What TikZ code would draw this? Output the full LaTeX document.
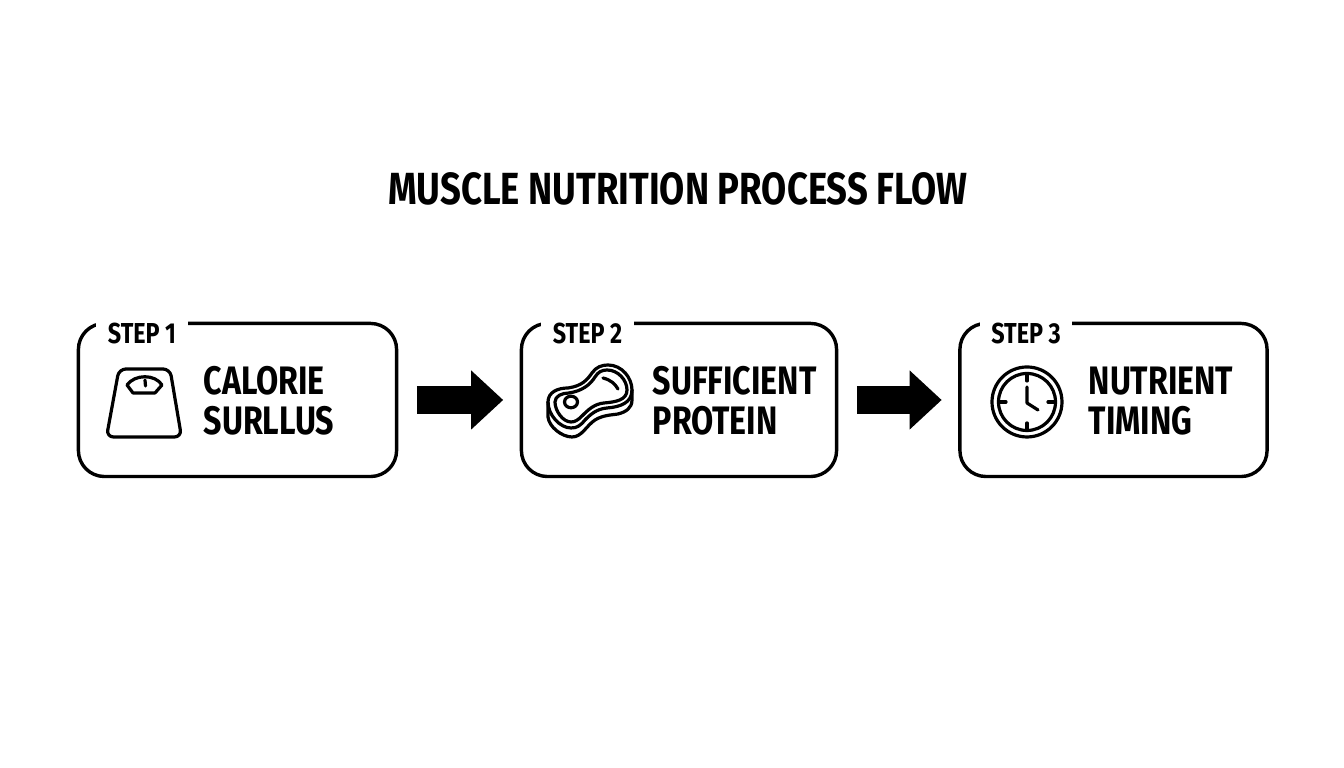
\documentclass[tikz,border=0pt]{standalone}
\usepackage{fontspec}
\setmainfont{Fira Sans}
\newfontfamily\stepfont[FakeStretch=0.81]{Fira Sans}
\usetikzlibrary{arrows.meta}
\tikzset{
  stepbox/.style={draw,line width=0.034cm,rounded corners=0.26cm,minimum height=1.53cm},
  steptag/.style={fill=white,inner xsep=0.115cm,inner ysep=0.03cm,font=\stepfont\bfseries\fontsize{8.2}{9}\selectfont},
  stepname/.style={anchor=west,align=left,inner sep=0pt,font=\stepfont\bfseries\fontsize{11.3}{11.38}\selectfont},
  flowarrow/.style={line width=0.28cm,-{Triangle[length=0.32cm,width=0.57cm]},shorten <=0.185cm,shorten >=0.165cm},
  icon/.style={line width=0.032cm,line join=round,line cap=round}
}
\begin{document}
\begin{tikzpicture}[x=0.01cm,y=-0.01cm]
  \useasboundingbox (0,0) rectangle (1344,768);

  \node[font=\stepfont\bfseries\fontsize{12.8}{14}\selectfont] (title) at (678,188.5) {MUSCLE NUTRITION PROCESS FLOW};

  \node[stepbox,minimum width=3.18cm] (box1) at (237.5,400) {};
  \node[stepbox,minimum width=3.15cm] (box2) at (679,400) {};
  \node[stepbox,minimum width=3.07cm] (box3) at (1113.5,400) {};

  \node[steptag] (tag1) at (142,333.5) {STEP 1};
  \node[steptag] (tag2) at (587.5,333.5) {STEP 2};
  \node[steptag] (tag3) at (1026,333.5) {STEP 3};

  \node[stepname] (name1) at (203,401) {CALORIE\\SURLLUS};
  \node[stepname] (name2) at (652,401) {SUFFICIENT\\PROTEIN};
  \node[stepname] (name3) at (1088,401) {NUTRIENT\\TIMING};

  \draw[flowarrow] (box1) -- (box2);
  \draw[flowarrow] (box2) -- (box3);

  % scale
  \draw[icon,rounded corners=0.07cm] (119,369) -- (170,369) -- (181.5,437) -- (106.5,437) -- cycle;
  \draw[icon] (127,385) .. controls (135,374) and (155,374) .. (162,385) -- (155,393) -- (133,393) -- cycle;
  \draw[icon] (145,380) -- (145.5,386);

  % steak
  \draw[icon] (548,402) .. controls (548,392) and (558,388) .. (568,388)
    .. controls (582,386) and (587,380) .. (592,373)
    .. controls (596,367) and (602,365) .. (608,365)
    .. controls (622,365) and (632,378) .. (632,390)
    .. controls (632,403) and (620,407) .. (607,408)
    .. controls (596,409) and (590,415) .. (585,420)
    .. controls (580,426) and (577,428) .. (571,428)
    .. controls (560,428) and (548,415) .. (548,402) -- cycle;
  \draw[icon] (555,402) .. controls (555,396) and (562,393) .. (569,393)
    .. controls (582,391) and (590,385) .. (595,377)
    .. controls (598,372) and (602,370) .. (607,370)
    .. controls (618,370) and (627,380) .. (627,390)
    .. controls (627,400) and (616,402) .. (604,403)
    .. controls (594,404) and (588,410) .. (582,416)
    .. controls (578,420) and (575,422) .. (571,422)
    .. controls (563,422) and (555,411) .. (555,402) -- cycle;
  \draw[icon] (548,402) -- (548,417) .. controls (549,427) and (562,437) .. (572,437)
    .. controls (582,437) and (586,426) .. (595,420)
    .. controls (603,415) and (612,415) .. (618,414)
    .. controls (626,412) and (632,408) .. (632,400) -- (632,390);
  \draw[icon] (571,402) ellipse (6.5 and 5.8);
  \draw[icon] (603,378) .. controls (611,380) and (615,384) .. (618,389);

  % clock
  \draw[icon] (1027,402) circle (35);
  \draw[icon] (1027,402) circle (28.5);
  \draw[icon] (1027,375) -- (1027,381);
  \draw[icon] (1027,423) -- (1027,429);
  \draw[icon] (1000,402) -- (1006,402);
  \draw[icon] (1048,402) -- (1054,402);
  \draw[icon] (1027,387) -- (1027,403) -- (1038,410);
\end{tikzpicture}
\end{document}
